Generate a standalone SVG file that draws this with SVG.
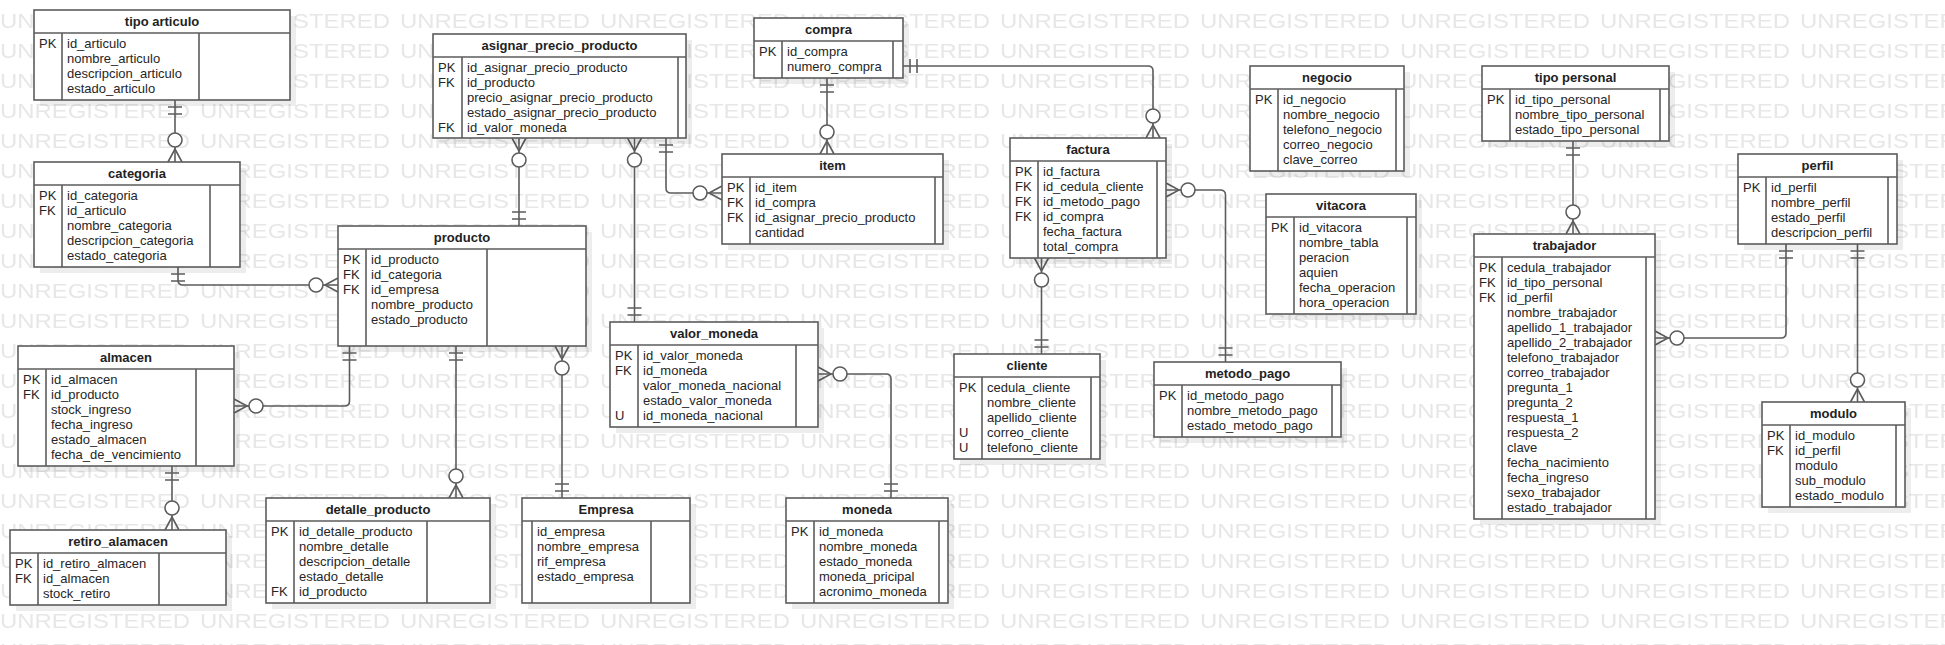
<svg xmlns="http://www.w3.org/2000/svg" xmlns:xlink="http://www.w3.org/1999/xlink" width="1945" height="645" viewBox="0 0 1945 645">
<style>
.bx{fill:#fff;stroke:#5c5c5c;stroke-width:1.6}
.sh{fill:#000;fill-opacity:0.07}
.dv{stroke:#5c5c5c;stroke-width:1.6;fill:none}
.ln{stroke:#5c5c5c;stroke-width:1.6;fill:none}
.ci{stroke:#5c5c5c;stroke-width:1.6;fill:#fff}
.ti{font-family:"Liberation Sans",Arial,sans-serif;font-size:13px;font-weight:bold;fill:#222;text-anchor:middle}
.k,.f{font-family:"Liberation Sans",Arial,sans-serif;font-size:13px;fill:#262626}
.wm{font-family:"Liberation Sans",Arial,sans-serif;font-size:21px;fill:#e7e7e7}
</style>
<defs>
<pattern id="wmp" width="200" height="30" patternUnits="userSpaceOnUse">
<text class="wm" x="0" y="28" textLength="190" lengthAdjust="spacingAndGlyphs">UNREGISTERED</text>
</pattern>
<g id="cf"><path class="ln" d="M-7,0 L0,-13 L7,0"/><circle class="ci" cx="0" cy="-22" r="7"/></g>
<g id="one"><path class="ln" d="M-7,-7 H7 M-7,-14 H7"/></g>
</defs>
<rect width="1945" height="645" fill="#fff"/>
<rect width="1945" height="645" fill="url(#wmp)"/>

<g id="connectors">
<path class="ln" d="M175,100 V162"/>
<path class="ln" d="M178,267 V280 Q178,285 183,285 H338"/>
<path class="ln" d="M519,138 V226"/>
<path class="ln" d="M634.5,138 V322"/>
<path class="ln" d="M666,138 V188 Q666,193 671,193 H722"/>
<path class="ln" d="M827,78 V154"/>
<path class="ln" d="M903,66 H1148 Q1153,66 1153,71 V138"/>
<path class="ln" d="M1166,190 H1220 Q1225.5,190 1225.5,195 V362"/>
<path class="ln" d="M1041.5,258 V354"/>
<path class="ln" d="M349.5,346 V401 Q349.5,406 344.5,406 H234"/>
<path class="ln" d="M456,346 V498"/>
<path class="ln" d="M562,346 V498"/>
<path class="ln" d="M172,466 V530"/>
<path class="ln" d="M818,374 H886 Q891,374 891,379 V498"/>
<path class="ln" d="M1573,141 V234"/>
<path class="ln" d="M1786,244 V333 Q1786,338 1781,338 H1655"/>
<path class="ln" d="M1857.5,244 V402"/>
<use href="#one" transform="translate(175,100) rotate(180)"/>
<use href="#cf" transform="translate(175,162)"/>
<use href="#one" transform="translate(178,267) rotate(180)"/>
<use href="#cf" transform="translate(338,285) rotate(-90)"/>
<use href="#cf" transform="translate(519,138) rotate(180)"/>
<use href="#one" transform="translate(519,226)"/>
<use href="#cf" transform="translate(634.5,138) rotate(180)"/>
<use href="#one" transform="translate(634.5,322)"/>
<use href="#one" transform="translate(666,138) rotate(180)"/>
<use href="#cf" transform="translate(722,193) rotate(-90)"/>
<use href="#one" transform="translate(827,78) rotate(180)"/>
<use href="#cf" transform="translate(827,154)"/>
<use href="#one" transform="translate(903,66) rotate(90)"/>
<use href="#cf" transform="translate(1153,138)"/>
<use href="#cf" transform="translate(1166,190) rotate(90)"/>
<use href="#one" transform="translate(1225.5,362)"/>
<use href="#cf" transform="translate(1041.5,258) rotate(180)"/>
<use href="#one" transform="translate(1041.5,354)"/>
<use href="#one" transform="translate(349.5,346) rotate(180)"/>
<use href="#cf" transform="translate(234,406) rotate(90)"/>
<use href="#one" transform="translate(456,346) rotate(180)"/>
<use href="#cf" transform="translate(456,498)"/>
<use href="#cf" transform="translate(562,346) rotate(180)"/>
<use href="#one" transform="translate(562,498)"/>
<use href="#one" transform="translate(172,466) rotate(180)"/>
<use href="#cf" transform="translate(172,530)"/>
<use href="#cf" transform="translate(818,374) rotate(90)"/>
<use href="#one" transform="translate(891,498)"/>
<use href="#one" transform="translate(1573,141) rotate(180)"/>
<use href="#cf" transform="translate(1573,234)"/>
<use href="#one" transform="translate(1786,244) rotate(180)"/>
<use href="#cf" transform="translate(1655,338) rotate(90)"/>
<use href="#one" transform="translate(1857.5,244) rotate(180)"/>
<use href="#cf" transform="translate(1857.5,402)"/>
</g>

<g id="tipo_articulo">
<rect class="sh" x="40" y="16" width="256" height="90"/>
<rect class="bx" x="34" y="10" width="256" height="90"/>
<path class="dv" d="M34,33 H290 M62,33 V100 M199,33 V100"/>
<text class="ti" x="162" y="26">tipo articulo</text>
<text class="k"><tspan x="39" y="48">PK</tspan></text>
<text class="f"><tspan x="67" y="48">id_articulo</tspan><tspan x="67" y="63">nombre_articulo</tspan><tspan x="67" y="78">descripcion_articulo</tspan><tspan x="67" y="93">estado_articulo</tspan></text>
</g>

<g id="categoria">
<rect class="sh" x="40" y="168" width="206" height="105"/>
<rect class="bx" x="34" y="162" width="206" height="105"/>
<path class="dv" d="M34,185 H240 M62,185 V267 M210,185 V267"/>
<text class="ti" x="137" y="178">categoria</text>
<text class="k"><tspan x="39" y="200">PK</tspan><tspan x="39" y="215">FK</tspan></text>
<text class="f"><tspan x="67" y="200">id_categoria</tspan><tspan x="67" y="215">id_articulo</tspan><tspan x="67" y="230">nombre_categoria</tspan><tspan x="67" y="245">descripcion_categoria</tspan><tspan x="67" y="260">estado_categoria</tspan></text>
</g>

<g id="producto">
<rect class="sh" x="344" y="232" width="248" height="120"/>
<rect class="bx" x="338" y="226" width="248" height="120"/>
<path class="dv" d="M338,249 H586 M366,249 V346 M487,249 V346"/>
<text class="ti" x="462" y="242">producto</text>
<text class="k"><tspan x="343" y="264">PK</tspan><tspan x="343" y="279">FK</tspan><tspan x="343" y="294">FK</tspan></text>
<text class="f"><tspan x="371" y="264">id_producto</tspan><tspan x="371" y="279">id_categoria</tspan><tspan x="371" y="294">id_empresa</tspan><tspan x="371" y="309">nombre_producto</tspan><tspan x="371" y="324">estado_producto</tspan></text>
</g>

<g id="asignar_precio_producto">
<rect class="sh" x="439" y="40" width="253" height="104"/>
<rect class="bx" x="433" y="34" width="253" height="104"/>
<path class="dv" d="M433,57 H686 M462,57 V138 M678,57 V138"/>
<text class="ti" x="559.5" y="50">asignar_precio_producto</text>
<text class="k"><tspan x="438" y="72">PK</tspan><tspan x="438" y="87">FK</tspan><tspan x="438" y="132">FK</tspan></text>
<text class="f"><tspan x="467" y="72">id_asignar_precio_producto</tspan><tspan x="467" y="87">id_producto</tspan><tspan x="467" y="102">precio_asignar_precio_producto</tspan><tspan x="467" y="117">estado_asignar_precio_producto</tspan><tspan x="467" y="132">id_valor_moneda</tspan></text>
</g>

<g id="compra">
<rect class="sh" x="760" y="24" width="149" height="60"/>
<rect class="bx" x="754" y="18" width="149" height="60"/>
<path class="dv" d="M754,41 H903 M782,41 V78 M893,41 V78"/>
<text class="ti" x="828.5" y="34">compra</text>
<text class="k"><tspan x="759" y="56">PK</tspan></text>
<text class="f"><tspan x="787" y="56">id_compra</tspan><tspan x="787" y="71">numero_compra</tspan></text>
</g>

<g id="item">
<rect class="sh" x="728" y="160" width="221" height="90"/>
<rect class="bx" x="722" y="154" width="221" height="90"/>
<path class="dv" d="M722,177 H943 M750,177 V244 M935,177 V244"/>
<text class="ti" x="832.5" y="170">item</text>
<text class="k"><tspan x="727" y="192">PK</tspan><tspan x="727" y="207">FK</tspan><tspan x="727" y="222">FK</tspan></text>
<text class="f"><tspan x="755" y="192">id_item</tspan><tspan x="755" y="207">id_compra</tspan><tspan x="755" y="222">id_asignar_precio_producto</tspan><tspan x="755" y="237">cantidad</tspan></text>
</g>

<g id="factura">
<rect class="sh" x="1016" y="144" width="156" height="120"/>
<rect class="bx" x="1010" y="138" width="156" height="120"/>
<path class="dv" d="M1010,161 H1166 M1038,161 V258 M1157,161 V258"/>
<text class="ti" x="1088" y="154">factura</text>
<text class="k"><tspan x="1015" y="176">PK</tspan><tspan x="1015" y="191">FK</tspan><tspan x="1015" y="206">FK</tspan><tspan x="1015" y="221">FK</tspan></text>
<text class="f"><tspan x="1043" y="176">id_factura</tspan><tspan x="1043" y="191">id_cedula_cliente</tspan><tspan x="1043" y="206">id_metodo_pago</tspan><tspan x="1043" y="221">id_compra</tspan><tspan x="1043" y="236">fecha_factura</tspan><tspan x="1043" y="251">total_compra</tspan></text>
</g>

<g id="negocio">
<rect class="sh" x="1256" y="72" width="154" height="105"/>
<rect class="bx" x="1250" y="66" width="154" height="105"/>
<path class="dv" d="M1250,89 H1404 M1278,89 V171 M1396,89 V171"/>
<text class="ti" x="1327" y="82">negocio</text>
<text class="k"><tspan x="1255" y="104">PK</tspan></text>
<text class="f"><tspan x="1283" y="104">id_negocio</tspan><tspan x="1283" y="119">nombre_negocio</tspan><tspan x="1283" y="134">telefono_negocio</tspan><tspan x="1283" y="149">correo_negocio</tspan><tspan x="1283" y="164">clave_correo</tspan></text>
</g>

<g id="vitacora">
<rect class="sh" x="1272" y="200" width="150" height="120"/>
<rect class="bx" x="1266" y="194" width="150" height="120"/>
<path class="dv" d="M1266,217 H1416 M1294,217 V314 M1407,217 V314"/>
<text class="ti" x="1341" y="210">vitacora</text>
<text class="k"><tspan x="1271" y="232">PK</tspan></text>
<text class="f"><tspan x="1299" y="232">id_vitacora</tspan><tspan x="1299" y="247">nombre_tabla</tspan><tspan x="1299" y="262">peracion</tspan><tspan x="1299" y="277">aquien</tspan><tspan x="1299" y="292">fecha_operacion</tspan><tspan x="1299" y="307">hora_operacion</tspan></text>
</g>

<g id="tipo_personal">
<rect class="sh" x="1488" y="72" width="187" height="75"/>
<rect class="bx" x="1482" y="66" width="187" height="75"/>
<path class="dv" d="M1482,89 H1669 M1510,89 V141 M1660,89 V141"/>
<text class="ti" x="1575.5" y="82">tipo personal</text>
<text class="k"><tspan x="1487" y="104">PK</tspan></text>
<text class="f"><tspan x="1515" y="104">id_tipo_personal</tspan><tspan x="1515" y="119">nombre_tipo_personal</tspan><tspan x="1515" y="134">estado_tipo_personal</tspan></text>
</g>

<g id="trabajador">
<rect class="sh" x="1480" y="240" width="181" height="285"/>
<rect class="bx" x="1474" y="234" width="181" height="285"/>
<path class="dv" d="M1474,257 H1655 M1502,257 V519 M1646,257 V519"/>
<text class="ti" x="1564.5" y="250">trabajador</text>
<text class="k"><tspan x="1479" y="272">PK</tspan><tspan x="1479" y="287">FK</tspan><tspan x="1479" y="302">FK</tspan></text>
<text class="f"><tspan x="1507" y="272">cedula_trabajador</tspan><tspan x="1507" y="287">id_tipo_personal</tspan><tspan x="1507" y="302">id_perfil</tspan><tspan x="1507" y="317">nombre_trabajador</tspan><tspan x="1507" y="332">apellido_1_trabajador</tspan><tspan x="1507" y="347">apellido_2_trabajador</tspan><tspan x="1507" y="362">telefono_trabajador</tspan><tspan x="1507" y="377">correo_trabajador</tspan><tspan x="1507" y="392">pregunta_1</tspan><tspan x="1507" y="407">pregunta_2</tspan><tspan x="1507" y="422">respuesta_1</tspan><tspan x="1507" y="437">respuesta_2</tspan><tspan x="1507" y="452">clave</tspan><tspan x="1507" y="467">fecha_nacimiento</tspan><tspan x="1507" y="482">fecha_ingreso</tspan><tspan x="1507" y="497">sexo_trabajador</tspan><tspan x="1507" y="512">estado_trabajador</tspan></text>
</g>

<g id="perfil">
<rect class="sh" x="1744" y="160" width="159" height="90"/>
<rect class="bx" x="1738" y="154" width="159" height="90"/>
<path class="dv" d="M1738,177 H1897 M1766,177 V244 M1888,177 V244"/>
<text class="ti" x="1817.5" y="170">perfil</text>
<text class="k"><tspan x="1743" y="192">PK</tspan></text>
<text class="f"><tspan x="1771" y="192">id_perfil</tspan><tspan x="1771" y="207">nombre_perfil</tspan><tspan x="1771" y="222">estado_perfil</tspan><tspan x="1771" y="237">descripcion_perfil</tspan></text>
</g>

<g id="modulo">
<rect class="sh" x="1768" y="408" width="143" height="105"/>
<rect class="bx" x="1762" y="402" width="143" height="105"/>
<path class="dv" d="M1762,425 H1905 M1790,425 V507 M1896,425 V507"/>
<text class="ti" x="1833.5" y="418">modulo</text>
<text class="k"><tspan x="1767" y="440">PK</tspan><tspan x="1767" y="455">FK</tspan></text>
<text class="f"><tspan x="1795" y="440">id_modulo</tspan><tspan x="1795" y="455">id_perfil</tspan><tspan x="1795" y="470">modulo</tspan><tspan x="1795" y="485">sub_modulo</tspan><tspan x="1795" y="500">estado_modulo</tspan></text>
</g>

<g id="almacen">
<rect class="sh" x="24" y="352" width="216" height="120"/>
<rect class="bx" x="18" y="346" width="216" height="120"/>
<path class="dv" d="M18,369 H234 M46,369 V466 M196,369 V466"/>
<text class="ti" x="126" y="362">almacen</text>
<text class="k"><tspan x="23" y="384">PK</tspan><tspan x="23" y="399">FK</tspan></text>
<text class="f"><tspan x="51" y="384">id_almacen</tspan><tspan x="51" y="399">id_producto</tspan><tspan x="51" y="414">stock_ingreso</tspan><tspan x="51" y="429">fecha_ingreso</tspan><tspan x="51" y="444">estado_almacen</tspan><tspan x="51" y="459">fecha_de_vencimiento</tspan></text>
</g>

<g id="retiro_alamacen">
<rect class="sh" x="16" y="536" width="216" height="75"/>
<rect class="bx" x="10" y="530" width="216" height="75"/>
<path class="dv" d="M10,553 H226 M38,553 V605 M159,553 V605"/>
<text class="ti" x="118" y="546">retiro_alamacen</text>
<text class="k"><tspan x="15" y="568">PK</tspan><tspan x="15" y="583">FK</tspan></text>
<text class="f"><tspan x="43" y="568">id_retiro_almacen</tspan><tspan x="43" y="583">id_almacen</tspan><tspan x="43" y="598">stock_retiro</tspan></text>
</g>

<g id="detalle_producto">
<rect class="sh" x="272" y="504" width="224" height="105"/>
<rect class="bx" x="266" y="498" width="224" height="105"/>
<path class="dv" d="M266,521 H490 M294,521 V603 M427,521 V603"/>
<text class="ti" x="378" y="514">detalle_producto</text>
<text class="k"><tspan x="271" y="536">PK</tspan><tspan x="271" y="596">FK</tspan></text>
<text class="f"><tspan x="299" y="536">id_detalle_producto</tspan><tspan x="299" y="551">nombre_detalle</tspan><tspan x="299" y="566">descripcion_detalle</tspan><tspan x="299" y="581">estado_detalle</tspan><tspan x="299" y="596">id_producto</tspan></text>
</g>

<g id="Empresa">
<rect class="sh" x="528" y="504" width="168" height="105"/>
<rect class="bx" x="522" y="498" width="168" height="105"/>
<path class="dv" d="M522,521 H690 M532,521 V603 M651,521 V603"/>
<text class="ti" x="606" y="514">Empresa</text>
<text class="f"><tspan x="537" y="536">id_empresa</tspan><tspan x="537" y="551">nombre_empresa</tspan><tspan x="537" y="566">rif_empresa</tspan><tspan x="537" y="581">estado_empresa</tspan></text>
</g>

<g id="valor_moneda">
<rect class="sh" x="616" y="328" width="208" height="105"/>
<rect class="bx" x="610" y="322" width="208" height="105"/>
<path class="dv" d="M610,345 H818 M638,345 V427 M796,345 V427"/>
<text class="ti" x="714" y="338">valor_moneda</text>
<text class="k"><tspan x="615" y="360">PK</tspan><tspan x="615" y="375">FK</tspan><tspan x="615" y="420">U</tspan></text>
<text class="f"><tspan x="643" y="360">id_valor_moneda</tspan><tspan x="643" y="375">id_moneda</tspan><tspan x="643" y="390">valor_moneda_nacional</tspan><tspan x="643" y="405">estado_valor_moneda</tspan><tspan x="643" y="420">id_moneda_nacional</tspan></text>
</g>

<g id="moneda">
<rect class="sh" x="792" y="504" width="162" height="105"/>
<rect class="bx" x="786" y="498" width="162" height="105"/>
<path class="dv" d="M786,521 H948 M814,521 V603 M939,521 V603"/>
<text class="ti" x="867" y="514">moneda</text>
<text class="k"><tspan x="791" y="536">PK</tspan></text>
<text class="f"><tspan x="819" y="536">id_moneda</tspan><tspan x="819" y="551">nombre_moneda</tspan><tspan x="819" y="566">estado_moneda</tspan><tspan x="819" y="581">moneda_pricipal</tspan><tspan x="819" y="596">acronimo_moneda</tspan></text>
</g>

<g id="cliente">
<rect class="sh" x="960" y="360" width="146" height="105"/>
<rect class="bx" x="954" y="354" width="146" height="105"/>
<path class="dv" d="M954,377 H1100 M982,377 V459 M1091,377 V459"/>
<text class="ti" x="1027" y="370">cliente</text>
<text class="k"><tspan x="959" y="392">PK</tspan><tspan x="959" y="437">U</tspan><tspan x="959" y="452">U</tspan></text>
<text class="f"><tspan x="987" y="392">cedula_cliente</tspan><tspan x="987" y="407">nombre_cliente</tspan><tspan x="987" y="422">apellido_cliente</tspan><tspan x="987" y="437">correo_cliente</tspan><tspan x="987" y="452">telefono_cliente</tspan></text>
</g>

<g id="metodo_pago">
<rect class="sh" x="1160" y="368" width="187" height="75"/>
<rect class="bx" x="1154" y="362" width="187" height="75"/>
<path class="dv" d="M1154,385 H1341 M1182,385 V437 M1332,385 V437"/>
<text class="ti" x="1247.5" y="378">metodo_pago</text>
<text class="k"><tspan x="1159" y="400">PK</tspan></text>
<text class="f"><tspan x="1187" y="400">id_metodo_pago</tspan><tspan x="1187" y="415">nombre_metodo_pago</tspan><tspan x="1187" y="430">estado_metodo_pago</tspan></text>
</g>
</svg>
